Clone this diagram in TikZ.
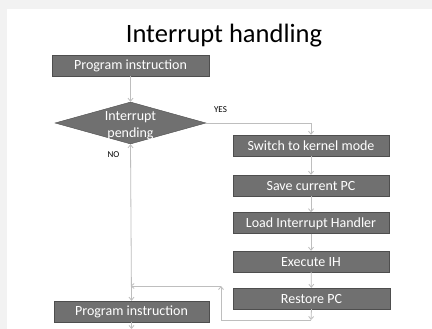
\documentclass[tikz,border=0pt]{standalone}
\usepackage{fontspec}
\setmainfont{Carlito}
\usetikzlibrary{shapes.geometric,arrows.meta}
\definecolor{boxgray}{RGB}{112,112,112}
\definecolor{boxline}{RGB}{78,78,78}
\definecolor{linegray}{RGB}{190,190,190}
\definecolor{slidegray}{RGB}{242,242,242}
\tikzset{
	stepbox/.style={draw=boxline,fill=boxgray,text=white,minimum width=156pt,minimum height=21pt,inner sep=0pt,text height=10pt,text depth=1pt,font=\fontsize{14}{17}\selectfont},
	arr/.style={-{Straight Barb[length=3pt,width=5pt]},draw=linegray,line width=0.8pt},
	lbl/.style={font=\fontsize{9}{10}\selectfont},
}

\begin{document}
\begin{tikzpicture}[x=1pt,y=-1pt]
	\fill[slidegray] (0,0) rectangle (432,329);
	\fill[white] (7,9) rectangle (432,329);
	\useasboundingbox (0,0) rectangle (432,329);
	
	\node[anchor=base,font=\fontsize{26.5}{30}\selectfont] at (224,43)(title){Interrupt handling};
	
	\node[stepbox,minimum width=157pt] at (130.5,65.5)(p1){Program instruction};
	\node[diamond,draw=boxline,fill=boxgray,minimum width=151pt,minimum height=42pt,inner sep=0pt] at (130.5,123)(d){};
	\node[text=white,align=center,font=\fontsize{14}{17}\selectfont] at (130.5,125.5)(dtext){Interrupt\\pending};
	\node[lbl] at (220.5,110)(yes){YES};
	\node[lbl] at (113.5,155)(no){NO};
	
	\node[stepbox] at (311,145.5)(sw){Switch to kernel mode};
	\node[stepbox] at (311,185.5)(sv){Save current PC};
	\node[stepbox] at (311,223)(ld){Load Interrupt Handler};
	\node[stepbox] at (311,261.5)(ex){Execute IH};
	\node[stepbox,minimum width=157pt] at (311.5,298.5)(rs){Restore PC};
	\node[stepbox,minimum width=155pt] at (131.5,311.5)(p2){Program instruction};
	
	\coordinate (r1) at (311,320);
	\coordinate (r2) at (221,286);
	\coordinate (r3) at (130.5,286);
	\coordinate (e) at (131.5,329);
	
	\path[arr] (p1)edge(d)(d.south)edge(p2.north)(sw)edge(sv)(sv)edge(ld)(ld)edge(ex)(ex)edge(rs);
	\draw[arr] (d.east) -| (sw.north);
	\draw[arr] (rs.south) -- (r1);
	\draw[arr] (r1) -| (r2);
	\draw[arr] (r2) -- (r3);
	\draw[arr] (p2.south) -- (e);
\end{tikzpicture}
\end{document}
